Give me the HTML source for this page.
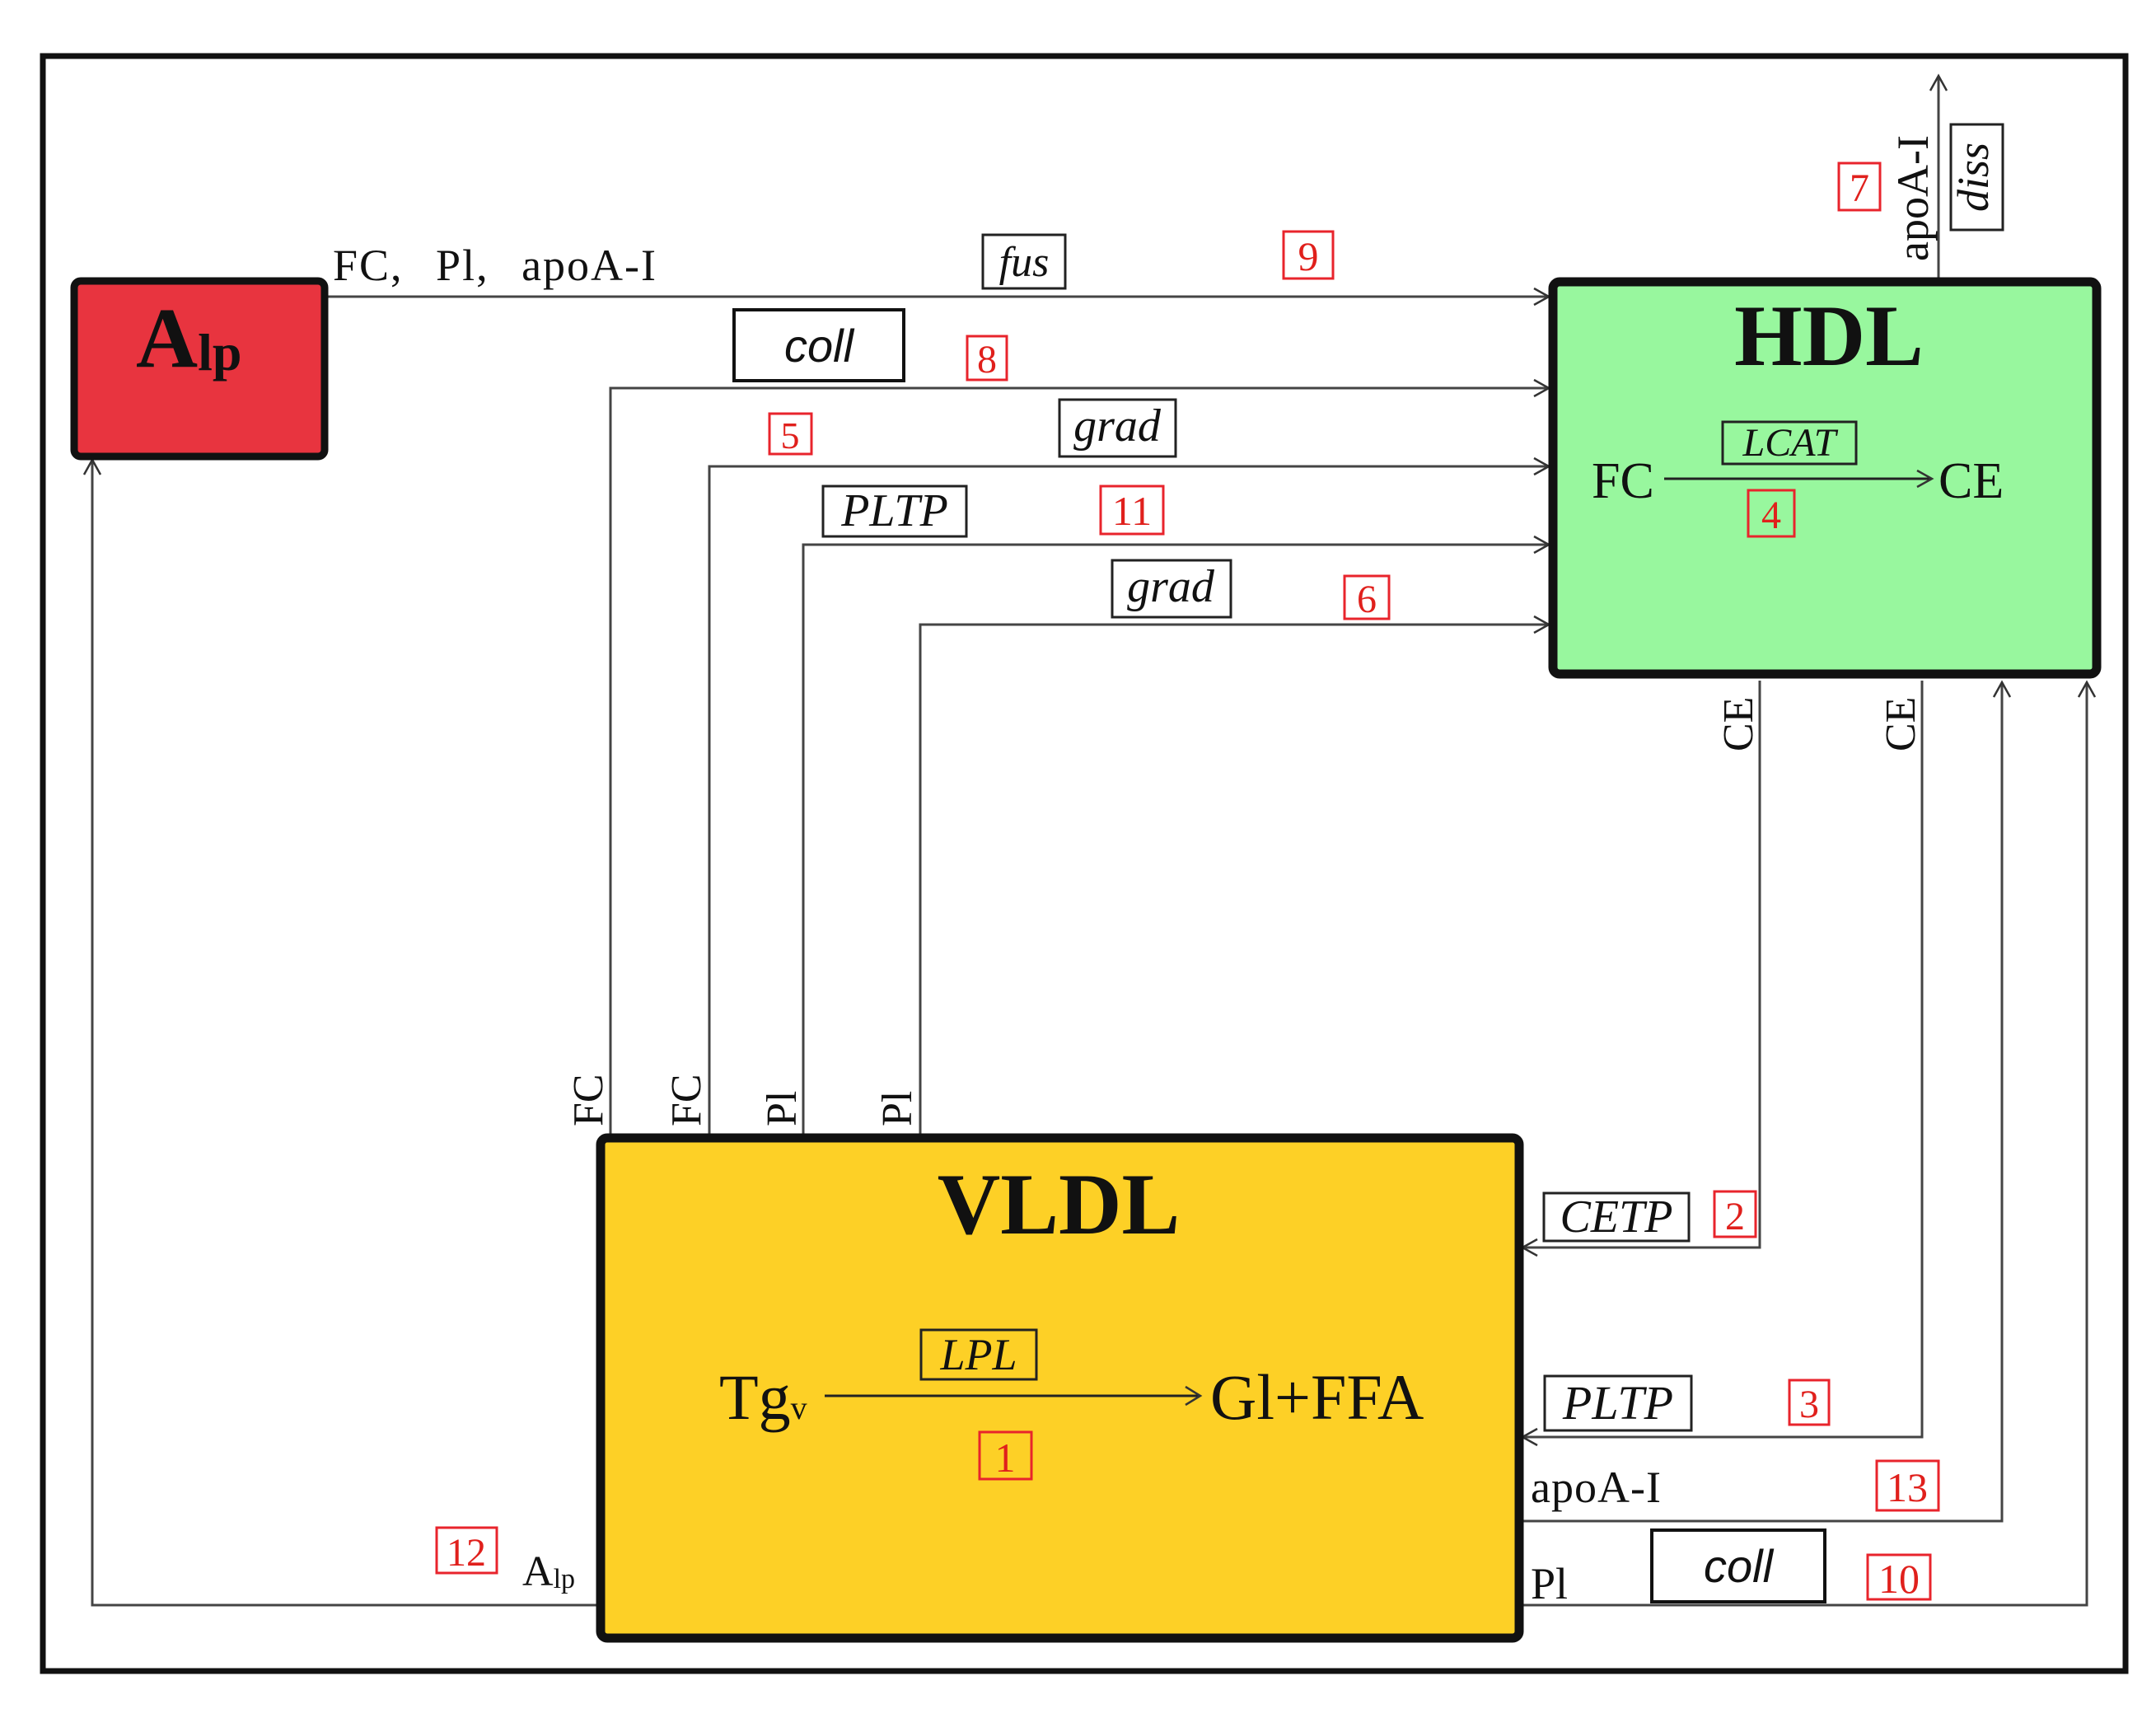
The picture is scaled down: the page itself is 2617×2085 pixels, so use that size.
<!DOCTYPE html>
<html><head><meta charset="utf-8"><style>
html,body{margin:0;padding:0;background:#fff;}
svg{display:block;}
text{font-family:"Liberation Serif",serif;fill:#111;}
.it{font-style:italic;}
.r{fill:#e0201c;}
.rb{fill:none;stroke:#e8242c;stroke-width:3;}
.bx{fill:none;stroke:#222;stroke-width:3;}
.ln{fill:none;stroke:#444;stroke-width:3;}
.ah{fill:none;stroke:#333;stroke-width:2.5;}
</style></head><body>
<svg width="2617" height="2085" viewBox="0 0 2617 2085" xmlns="http://www.w3.org/2000/svg">
<rect x="0" y="0" width="2617" height="2085" fill="#fff"/>
<rect x="52" y="68" width="2528" height="1960" fill="none" stroke="#111" stroke-width="7"/>

<path class="ln" d="M396 360 H1880"/>
<path class="ah" d="M1862 350 L1880 360 L1862 370"/>
<path class="ln" d="M741 1379 V471 H1880"/>
<path class="ah" d="M1862 461 L1880 471 L1862 481"/>
<path class="ln" d="M861 1379 V566 H1880"/>
<path class="ah" d="M1862 556 L1880 566 L1862 576"/>
<path class="ln" d="M975 1379 V661 H1880"/>
<path class="ah" d="M1862 651 L1880 661 L1862 671"/>
<path class="ln" d="M1117 1379 V758 H1880"/>
<path class="ah" d="M1862 748 L1880 758 L1862 768"/>
<path class="ln" d="M2353 340 V92"/>
<path class="ah" d="M2343 110 L2353 92 L2363 110"/>
<path class="ln" d="M2136 826 V1514 H1848"/>
<path class="ah" d="M1866 1504 L1848 1514 L1866 1524"/>
<path class="ln" d="M2333 826 V1744 H1848"/>
<path class="ah" d="M1866 1734 L1848 1744 L1866 1754"/>
<path class="ln" d="M1848 1846 H2430 V828"/>
<path class="ah" d="M2420 846 L2430 828 L2440 846"/>
<path class="ln" d="M1848 1948 H2533 V828"/>
<path class="ah" d="M2523 846 L2533 828 L2543 846"/>
<path class="ln" d="M727 1948 H112 V558"/>
<path class="ah" d="M102 576 L112 558 L122 576"/>

<rect x="90" y="341" width="304" height="213" rx="8" fill="#e8343f" stroke="#111" stroke-width="9"/>
<text x="165" y="445" font-size="104" font-weight="bold">A<tspan font-size="64" dy="4">lp</tspan></text>

<rect x="1885" y="342" width="660" height="476" rx="8" fill="#98f79e" stroke="#111" stroke-width="11"/>
<text x="2220" y="443" font-size="106" font-weight="bold" text-anchor="middle">HDL</text>
<rect x="2091" y="512" width="162" height="51" class="bx"/>
<text x="2172" y="553" font-size="48" class="it" text-anchor="middle">LCAT</text>
<text x="1932" y="604" font-size="62">FC</text>
<path d="M2020 581 H2343" stroke="#222" stroke-width="3"/>
<path class="ah" d="M2327 571 L2345 581 L2327 591"/>
<text x="2353" y="604" font-size="62">CE</text>
<rect x="2122" y="595" width="56" height="56" class="rb"/>
<text x="2150" y="641" font-size="48" class="r" text-anchor="middle">4</text>

<rect x="729" y="1381" width="1115" height="607" rx="8" fill="#fdd026" stroke="#111" stroke-width="11"/>
<text x="1285" y="1497" font-size="106" font-weight="bold" text-anchor="middle">VLDL</text>
<rect x="1118" y="1614" width="140" height="60" class="bx"/>
<text x="1188" y="1662" font-size="54" class="it" text-anchor="middle">LPL</text>
<text x="873" y="1722" font-size="78">Tg<tspan font-size="40">v</tspan></text>
<path d="M1001 1694 H1455" stroke="#222" stroke-width="3"/>
<path class="ah" d="M1439 1683 L1457 1694 L1439 1705"/>
<text x="1469" y="1722" font-size="78">Gl+FFA</text>
<rect x="1189" y="1738" width="63" height="57" class="rb"/>
<text x="1220" y="1786" font-size="50" class="r" text-anchor="middle">1</text>

<text x="404" y="340" font-size="54" letter-spacing="2" word-spacing="24">FC, Pl, apoA-I</text>
<rect x="1193" y="285" width="100" height="65" class="bx"/>
<text x="1243" y="335" font-size="52" class="it" text-anchor="middle">fus</text>
<rect x="1558" y="281" width="60" height="57" class="rb"/>
<text x="1588" y="328" font-size="50" class="r" text-anchor="middle">9</text>

<rect x="891" y="376" width="206" height="86" fill="#fff" stroke="#111" stroke-width="4"/>
<text x="994" y="439" font-size="56" class="it" text-anchor="middle" style="font-family:'Liberation Sans',sans-serif">coll</text>
<rect x="1174" y="408" width="48" height="53" class="rb"/>
<text x="1198" y="452" font-size="48" class="r" text-anchor="middle">8</text>

<rect x="934" y="502" width="51" height="49" class="rb"/>
<text x="959" y="544" font-size="46" class="r" text-anchor="middle">5</text>
<rect x="1286" y="485" width="141" height="69" class="bx"/>
<text x="1356" y="535" font-size="56" class="it" text-anchor="middle">grad</text>

<rect x="999" y="590" width="174" height="61" class="bx"/>
<text x="1086" y="638" font-size="56" class="it" text-anchor="middle">PLTP</text>
<rect x="1336" y="590" width="76" height="58" class="rb"/>
<text x="1374" y="637" font-size="50" class="r" text-anchor="middle">11</text>

<rect x="1350" y="680" width="144" height="69" class="bx"/>
<text x="1421" y="730" font-size="56" class="it" text-anchor="middle">grad</text>
<rect x="1632" y="699" width="54" height="52" class="rb"/>
<text x="1659" y="743" font-size="48" class="r" text-anchor="middle">6</text>

<text transform="translate(2340,317) rotate(-90)" font-size="54">apoA-I</text>
<rect x="2368" y="151" width="63" height="128" class="bx"/>
<text transform="translate(2413,215) rotate(-90)" font-size="54" class="it" text-anchor="middle">diss</text>
<rect x="2232" y="198" width="50" height="57" class="rb"/>
<text x="2257" y="244" font-size="48" class="r" text-anchor="middle">7</text>

<text transform="translate(2127,912) rotate(-90)" font-size="52">CE</text>
<text transform="translate(2324,912) rotate(-90)" font-size="52">CE</text>

<text transform="translate(731,1367) rotate(-90)" font-size="52">FC</text>
<text transform="translate(850,1367) rotate(-90)" font-size="52">FC</text>
<text transform="translate(966,1367) rotate(-90)" font-size="52">Pl</text>
<text transform="translate(1106,1367) rotate(-90)" font-size="52">Pl</text>

<rect x="1874" y="1448" width="176" height="58" class="bx"/>
<text x="1962" y="1495" font-size="56" class="it" text-anchor="middle">CETP</text>
<rect x="2081" y="1446" width="50" height="55" class="rb"/>
<text x="2106" y="1492" font-size="48" class="r" text-anchor="middle">2</text>

<rect x="1875" y="1670" width="178" height="66" class="bx"/>
<text x="1964" y="1722" font-size="58" class="it" text-anchor="middle">PLTP</text>
<rect x="2172" y="1675" width="48" height="54" class="rb"/>
<text x="2196" y="1720" font-size="48" class="r" text-anchor="middle">3</text>

<text x="1858" y="1823" font-size="54" letter-spacing="1">apoA-I</text>
<rect x="2278" y="1773" width="75" height="60" class="rb"/>
<text x="2315" y="1822" font-size="50" class="r" text-anchor="middle">13</text>

<text x="1858" y="1940" font-size="54">Pl</text>
<rect x="2005" y="1857" width="210" height="87" fill="#fff" stroke="#111" stroke-width="4"/>
<text x="2110" y="1920" font-size="56" class="it" text-anchor="middle" style="font-family:'Liberation Sans',sans-serif">coll</text>
<rect x="2267" y="1887" width="76" height="54" class="rb"/>
<text x="2305" y="1933" font-size="50" class="r" text-anchor="middle">10</text>

<rect x="530" y="1854" width="73" height="55" class="rb"/>
<text x="566" y="1900" font-size="48" class="r" text-anchor="middle">12</text>
<text x="634" y="1924" font-size="52">A<tspan font-size="34" dy="3">lp</tspan></text>
</svg>
</body></html>
